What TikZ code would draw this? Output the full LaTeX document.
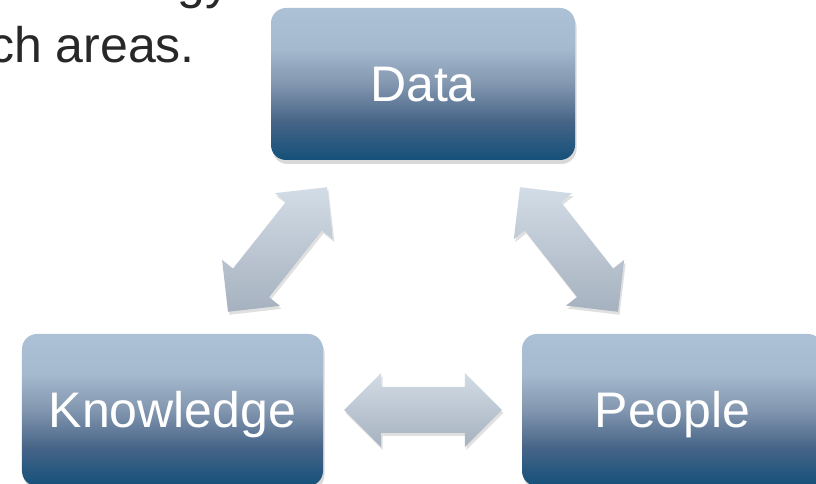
\documentclass[tikz,border=0pt]{standalone}
\usepackage{fontspec}
\setmainfont{Liberation Sans}
\usetikzlibrary{calc,shadows}
\definecolor{boxtop}{RGB}{172,192,214}
\definecolor{boxtopb}{RGB}{165,185,207}
\definecolor{boxmid}{RGB}{130,150,175}
\definecolor{boxlow}{RGB}{70,100,135}
\definecolor{boxbot}{RGB}{20,80,122}
\definecolor{arrtop}{RGB}{210,220,230}
\definecolor{arrbot}{RGB}{166,177,191}
\definecolor{txtgray}{RGB}{40,40,40}
\pgfdeclareverticalshading{boxshade}{100bp}{color(0bp)=(boxbot); color(25bp)=(boxbot); color(37.5bp)=(boxlow); color(50bp)=(boxmid); color(62bp)=(boxtopb); color(75bp)=(boxtop); color(100bp)=(boxtop)}

\begin{document}
\begin{tikzpicture}[x=1bp, y=1bp,
   box/.style={rectangle, rounded corners=15bp, minimum width=301bp, minimum height=152bp,
      shading=boxshade, text=white, font=\fontsize{50bp}{60bp}\selectfont,
      text height=36bp, text depth=0pt,
      drop shadow={shadow xshift=1.5bp, shadow yshift=-4bp, opacity=0.3}},
   note/.style={text=txtgray, font=\fontsize{50bp}{60bp}\selectfont, inner sep=0pt, anchor=base east},
   dblarrow/.style={top color=arrtop, bottom color=arrbot,
      preaction={fill=black, opacity=0.12, transform canvas={shift={(1.5bp,-3bp)}}},
      to path={-- ($(\tikztostart)!37bp!(\tikztotarget)!37bp!90:(\tikztotarget)$)
         -- ($(\tikztostart)!37bp!(\tikztotarget)!23bp!90:(\tikztotarget)$)
         -- ($(\tikztotarget)!37bp!(\tikztostart)!23bp!-90:(\tikztostart)$)
         -- ($(\tikztotarget)!37bp!(\tikztostart)!37bp!-90:(\tikztostart)$)
         -- (\tikztotarget)
         -- ($(\tikztotarget)!37bp!(\tikztostart)!37bp!90:(\tikztostart)$)
         -- ($(\tikztotarget)!37bp!(\tikztostart)!23bp!90:(\tikztostart)$)
         -- ($(\tikztostart)!37bp!(\tikztotarget)!23bp!-90:(\tikztotarget)$)
         -- ($(\tikztostart)!37bp!(\tikztotarget)!37bp!-90:(\tikztotarget)$)
         -- cycle}}]
   \useasboundingbox (0,0) rectangle (816,484);
   \node (line1) at (231,485) [note] {ology};
   \node (line2) at (195,421) [note] {ch areas.};
   \node (data) at (423,400) [box, minimum width=304bp] {Data};
   \node (know) at (172.5,74) [box] {Knowledge};
   \node (peop) at (672.5,74) [box] {People};
   \coordinate (dk1) at ($(data.south)+(-96,-27)$);
   \coordinate (dk2) at ($(know.north)+(55.5,22)$);
   \coordinate (dp1) at ($(data.south)+(97,-27)$);
   \coordinate (dp2) at ($(peop.north)+(-54.5,22)$);
   \coordinate (kp1) at ($(know.east)+(21,0)$);
   \coordinate (kp2) at ($(peop.west)+(-20,0)$);
   \path (dk2)[dblarrow] to (dk1);
   \path (dp1)[dblarrow] to (dp2);
   \path (kp1)[dblarrow] to (kp2);
\end{tikzpicture}
\end{document}
